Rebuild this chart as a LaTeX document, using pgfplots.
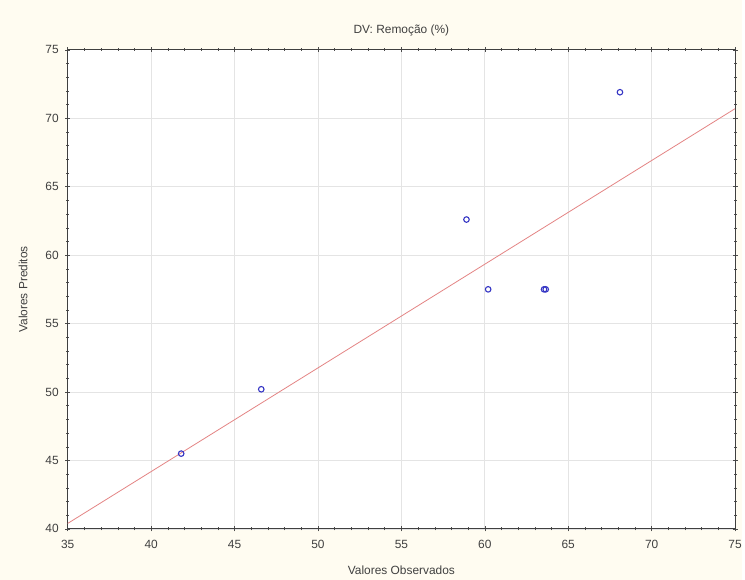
\documentclass[border=0pt]{standalone}
\usepackage{pgfplots}
\pgfplotsset{compat=1.18}
\usepackage{fontspec}
\setmainfont{Liberation Sans}
\definecolor{bgcream}{HTML}{FFFCF1}
\definecolor{gridgray}{HTML}{E4E4E4}
\definecolor{fitred}{HTML}{E48484}
\definecolor{ptblue}{HTML}{3434C4}
\definecolor{txt}{HTML}{404040}
\begin{document}
\begin{tikzpicture}
\fill[bgcream] (-68bp,-51bp) rectangle (677bp,531bp);
\begin{axis}[
  at={(0,0)}, anchor=south west,
  scale only axis, width=670bp, height=481bp,
  xmin=35, xmax=75, ymin=40, ymax=75,
  xtick={35,40,...,75}, ytick={40,45,...,75},
  minor x tick num=4, minor y tick num=4,
  tick align=center, major tick length=5bp, minor tick length=3bp,
  tick style={black!70, line width=0.5pt},
  grid=major, major grid style={gridgray, line width=0.7pt},
  axis line style={black!75, line width=0.9pt},
  axis background/.style={fill=white},
  /pgf/number format/assume math mode=true,
  font=\fontsize{12}{14}\selectfont,
  ticklabel style={font=\fontsize{12}{14}\selectfont, text=txt},
  xticklabel style={yshift=-5bp},
  yticklabel style={xshift=-3bp},
  title={DV: Remoção (\%)},
  title style={at={(axis description cs:0.5,1)}, anchor=center, yshift=13bp, text=txt},
  xlabel={Valores Observados},
  xlabel style={at={(axis description cs:0.5,-0.087)}, anchor=center, text=txt},
  ylabel={Valores Preditos},
  ylabel style={at={(axis description cs:-0.067,0.5)}, anchor=center, text=txt},
]
\addplot[fitred, line width=0.8pt, no markers] coordinates {(35,40.4) (75,70.7)};
\addplot[only marks, mark=o, mark size=2.8pt, ptblue, mark options={line width=1.1pt}] coordinates {
  (41.8,45.5) (46.6,50.2) (58.9,62.6) (60.2,57.5) (63.55,57.5) (63.65,57.5) (68.1,71.9)
};
\end{axis}
\end{tikzpicture}
\end{document}
